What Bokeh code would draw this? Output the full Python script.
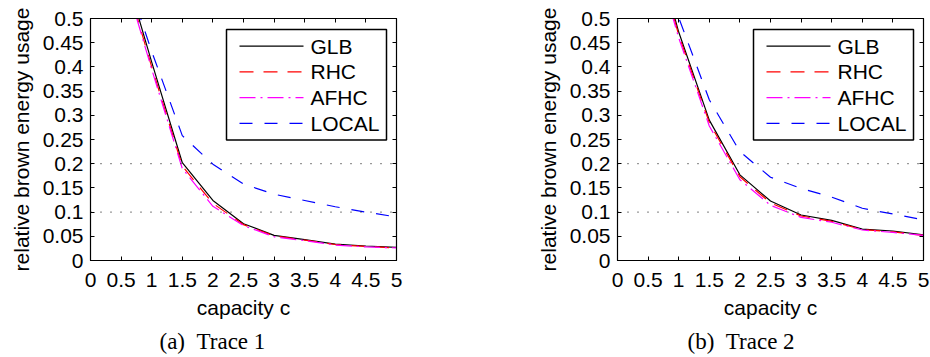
from bokeh.plotting import figure
from bokeh.layouts import row
from bokeh.models import (Range1d, FixedTicker, LinearAxis, Span, Title, Label, BoxAnnotation,
                          ColumnDataSource)
from bokeh.embed import file_html
from bokeh.resources import INLINE

# ---------------- data ----------------
capacity = [0.5, 1.0, 1.5, 2.0, 2.5, 3.0, 3.5, 4.0, 4.5, 5.0]

glb_trace1 = [0.625, 0.410, 0.202, 0.124, 0.076, 0.052, 0.043, 0.034, 0.030, 0.027]
rhc_trace1 = [0.615, 0.400, 0.195, 0.118, 0.074, 0.051, 0.042, 0.033, 0.029, 0.026]
afhc_trace1 = [0.610, 0.395, 0.190, 0.112, 0.072, 0.049, 0.041, 0.032, 0.028, 0.026]
local_trace1 = [0.620, 0.432, 0.258, 0.199, 0.158, 0.137, 0.124, 0.111, 0.100, 0.090]

glb_trace2 = [0.700, 0.472, 0.290, 0.177, 0.123, 0.094, 0.083, 0.065, 0.061, 0.053]
rhc_trace2 = [0.690, 0.466, 0.285, 0.173, 0.119, 0.092, 0.081, 0.064, 0.059, 0.052]
afhc_trace2 = [0.680, 0.460, 0.278, 0.167, 0.114, 0.089, 0.079, 0.063, 0.058, 0.052]
local_trace2 = [0.800, 0.502, 0.332, 0.225, 0.172, 0.149, 0.131, 0.108, 0.096, 0.084]

series_names = ["GLB", "RHC", "AFHC", "LOCAL"]
captions = ["(a)\u00a0\u00a0Trace 1", "(b)\u00a0\u00a0Trace 2"]

x_ticks = [0, 0.5, 1, 1.5, 2, 2.5, 3, 3.5, 4, 4.5, 5]
x_tick_labels = ["0", "0.5", "1", "1.5", "2", "2.5", "3", "3.5", "4", "4.5", "5"]
y_ticks = [0, 0.05, 0.1, 0.15, 0.2, 0.25, 0.3, 0.35, 0.4, 0.45, 0.5]
y_tick_labels = ["0", "0.05", "0.1", "0.15", "0.2", "0.25", "0.3", "0.35", "0.4", "0.45", "0.5"]
ref_levels = [0.1, 0.2]

x_label = "capacity c"
y_label = "relative brown energy usage"

# ---------------- styles / layout ----------------
FONT = "Liberation Sans"
FS = "21px"
X0, X1, Y0, Y1 = 0.0, 5.0, 0.0, 0.5
FRAME_W, FRAME_H = 306, 242
line_styles = {
    "GLB": dict(color="black", dash="solid"),
    "RHC": dict(color="red", dash="14 10"),
    "AFHC": dict(color="magenta", dash="16 5 2 5"),
    "LOCAL": dict(color="blue", dash="13 12"),
}
# legend geometry in pixels, measured from the frame's top-left corner
LEG_BOX = dict(left=136, right=296, top=11, bottom=121.5)
LEG_SAMPLE_X = (149, 213)
LEG_TEXT_X = 220
LEG_ROW0, LEG_ROW_STEP = 27.7, 25.7


def px_to_x(px):
    return X0 + px / FRAME_W * (X1 - X0)


def py_to_y(py):
    return Y1 - py / FRAME_H * (Y1 - Y0)


def make_panel(series, caption, border_left, border_right, cap_offset):
    p = figure(frame_width=FRAME_W, frame_height=FRAME_H, output_backend="svg",
               toolbar_location=None,
               x_range=Range1d(X0, X1), y_range=Range1d(Y0, Y1),
               min_border_left=border_left, min_border_right=border_right,
               min_border_top=18, min_border_bottom=97,
               background_fill_color="white", border_fill_color="white")
    p.grid.visible = False
    p.outline_line_color = "black"
    p.outline_line_width = 1.2

    for ax, ticks, labels in ((p.xaxis[0], x_ticks, x_tick_labels), (p.yaxis[0], y_ticks, y_tick_labels)):
        ax.ticker = FixedTicker(ticks=ticks)
        ax.major_label_overrides = {t: l for t, l in zip(ticks, labels)}
        ax.major_tick_in = 4
        ax.major_tick_out = 0
        ax.minor_tick_line_color = None
        ax.major_label_text_font = FONT
        ax.major_label_text_font_size = FS
        ax.major_label_text_color = "black"
        ax.axis_label_text_font = FONT
        ax.axis_label_text_font_size = FS
        ax.axis_label_text_font_style = "normal"
        ax.axis_label_text_color = "black"
        ax.axis_line_color = "black"
        ax.major_tick_line_color = "black"
    p.xaxis[0].axis_label = x_label
    p.yaxis[0].axis_label = y_label
    p.xaxis[0].major_label_standoff = 12
    p.xaxis[0].axis_label_standoff = 6
    p.yaxis[0].major_label_standoff = 7
    p.yaxis[0].axis_label_standoff = 7

    # mirrored ticks on top and right (no labels)
    for loc, ticks in (("above", x_ticks), ("right", y_ticks)):
        ax = LinearAxis(ticker=FixedTicker(ticks=ticks), major_tick_in=4, major_tick_out=0,
                        minor_tick_line_color=None,
                        major_label_overrides={t: "" for t in ticks},
                        major_label_standoff=0, axis_line_color="black",
                        major_tick_line_color="black")
        p.add_layout(ax, loc)

    for lvl in ref_levels:
        p.add_layout(Span(location=lvl, dimension="width", line_color="black",
                          line_dash="1 9", line_width=1))

    for name in series_names:
        st = line_styles[name]
        src = ColumnDataSource(data=dict(x=capacity, y=series[name]))
        p.line(x="x", y="y", source=src, line_color=st["color"], line_dash=st["dash"],
               line_width=1.2)

    # legend (drawn by hand so that the sample lines keep their colours)
    p.add_layout(BoxAnnotation(left=px_to_x(LEG_BOX["left"]), right=px_to_x(LEG_BOX["right"]),
                               top=py_to_y(LEG_BOX["top"]), bottom=py_to_y(LEG_BOX["bottom"]),
                               fill_color="white", fill_alpha=0.0, line_color="black",
                               line_width=1.5, line_alpha=1.0, level="underlay"))
    for i, name in enumerate(series_names):
        st = line_styles[name]
        yrow = py_to_y(LEG_ROW0 + i * LEG_ROW_STEP)
        p.segment(x0=[px_to_x(LEG_SAMPLE_X[0])], y0=[yrow], x1=[px_to_x(LEG_SAMPLE_X[1])], y1=[yrow],
                  line_color=st["color"], line_dash=st["dash"], line_width=1.2)
        p.add_layout(Label(x=px_to_x(LEG_TEXT_X), y=yrow, text=name, text_align="left",
                           text_baseline="middle", text_font=FONT, text_font_size=FS,
                           text_color="black"))

    p.add_layout(Title(text=caption, align="left", offset=cap_offset,
                       text_font="Liberation Serif", text_font_size="23px",
                       text_font_style="normal", text_color="black", standoff=10), "below")
    return p


p1 = make_panel({"GLB": glb_trace1, "RHC": rhc_trace1, "AFHC": afhc_trace1, "LOCAL": local_trace1},
                captions[0], 90, 74, 69)
p2 = make_panel({"GLB": glb_trace2, "RHC": rhc_trace2, "AFHC": afhc_trace2, "LOCAL": local_trace2},
                captions[1], 147, 7, 70)

layout = row(p1, p2)
open("out.html", "w").write(file_html(layout, INLINE))
